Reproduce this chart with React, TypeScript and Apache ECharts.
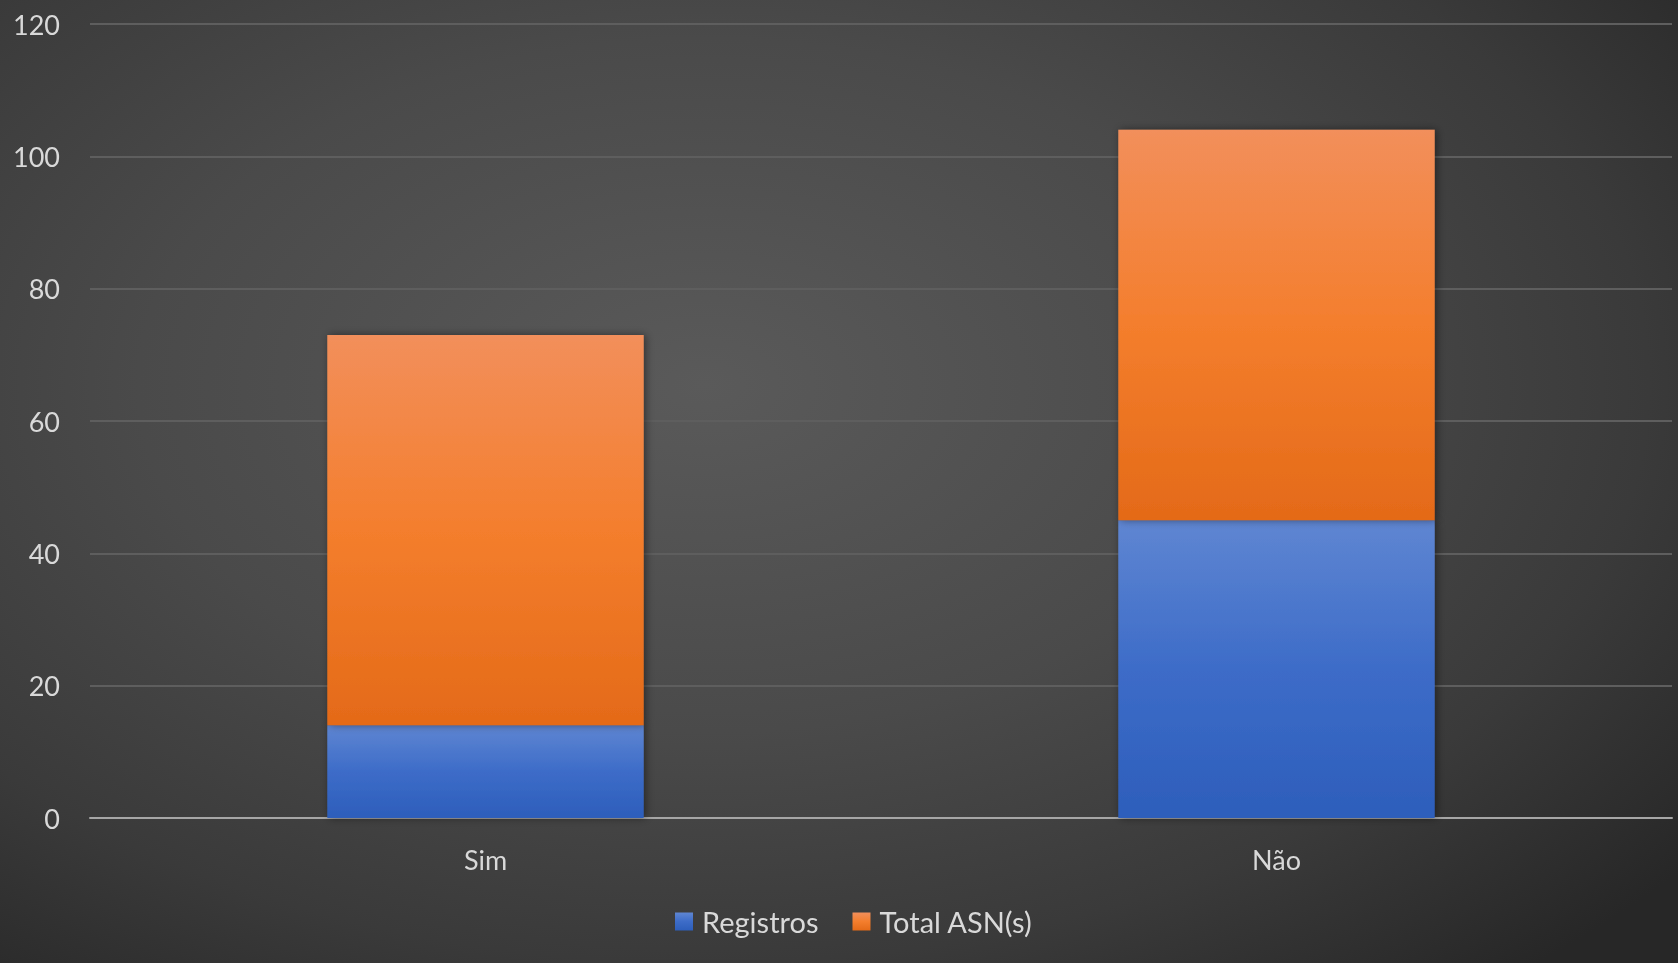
import React, { useEffect, useRef } from "react";
import * as echarts from "echarts";

const categories = ["Sim", "Não"];
const registros = [14, 45];
const totalASN = [59, 59];
const yTicks = { min: 0, max: 120, interval: 20 };
const seriesNames = ["Registros", "Total ASN(s)"];

const FONT = "Lato";

export default function App() {
  const ref = useRef<HTMLDivElement>(null);
  useEffect(() => {
    if (!ref.current) return;
    const chart = echarts.init(ref.current, undefined, { renderer: "svg" });
    const blue = new echarts.graphic.LinearGradient(0, 0, 0, 1, [
      { offset: 0, color: "#5f86d2" },
      { offset: 0.5, color: "#3d6cc8" },
      { offset: 1, color: "#2d5ebb" },
    ]);
    const orange = new echarts.graphic.LinearGradient(0, 0, 0, 1, [
      { offset: 0, color: "#f28f5b" },
      { offset: 0.5, color: "#f47e2d" },
      { offset: 1, color: "#e46a18" },
    ]);
    chart.setOption({
      animation: false,
      backgroundColor: "transparent",
      grid: { left: 90, right: 6, top: 24, bottom: 145, containLabel: false },
      xAxis: {
        type: "category",
        data: categories,
        axisLine: { show: true, lineStyle: { color: "#a6a6a6", width: 2 } },
        axisTick: { show: false },
        axisLabel: { color: "#d9d9d9", fontSize: 27, fontFamily: FONT, margin: 28 },
      },
      yAxis: {
        type: "value",
        min: yTicks.min,
        max: yTicks.max,
        interval: yTicks.interval,
        axisLine: { show: false },
        axisTick: { show: false },
        axisLabel: { color: "#d9d9d9", fontSize: 27, fontFamily: FONT, margin: 30 },
        splitLine: { lineStyle: { color: "#5e5e5e", width: 2 } },
      },
      legend: {
        data: seriesNames,
        left: 670,
        top: 902,
        icon: "rect",
        itemWidth: 18,
        itemHeight: 18,
        itemGap: 34,
        textStyle: { color: "#d9d9d9", fontSize: 29, fontFamily: FONT, padding: [0, 0, 0, 4] },
      },
      series: [
        {
          name: seriesNames[0],
          type: "bar",
          stack: "t",
          barWidth: "40%",
          data: registros,
          itemStyle: {
            color: blue,
            shadowColor: "rgba(0,0,0,0.45)",
            shadowBlur: 8,
            shadowOffsetX: 2,
          },
        },
        {
          name: seriesNames[1],
          type: "bar",
          stack: "t",
          barWidth: "40%",
          data: totalASN,
          itemStyle: {
            color: orange,
            shadowColor: "rgba(0,0,0,0.45)",
            shadowBlur: 8,
            shadowOffsetX: 2,
          },
        },
      ],
    });
    return () => chart.dispose();
  }, []);
  return (
    <div
      style={{
        position: "fixed",
        left: 0,
        top: 0,
        width: 1678,
        height: 963,
        background:
          "radial-gradient(ellipse 75% 80% at 42% 40%, #5a5a5a 0%, #4a4a4a 45%, #3a3a3a 75%, #272727 100%)",
      }}
    >
      <div ref={ref} style={{ width: 1678, height: 963 }} />
    </div>
  );
}
